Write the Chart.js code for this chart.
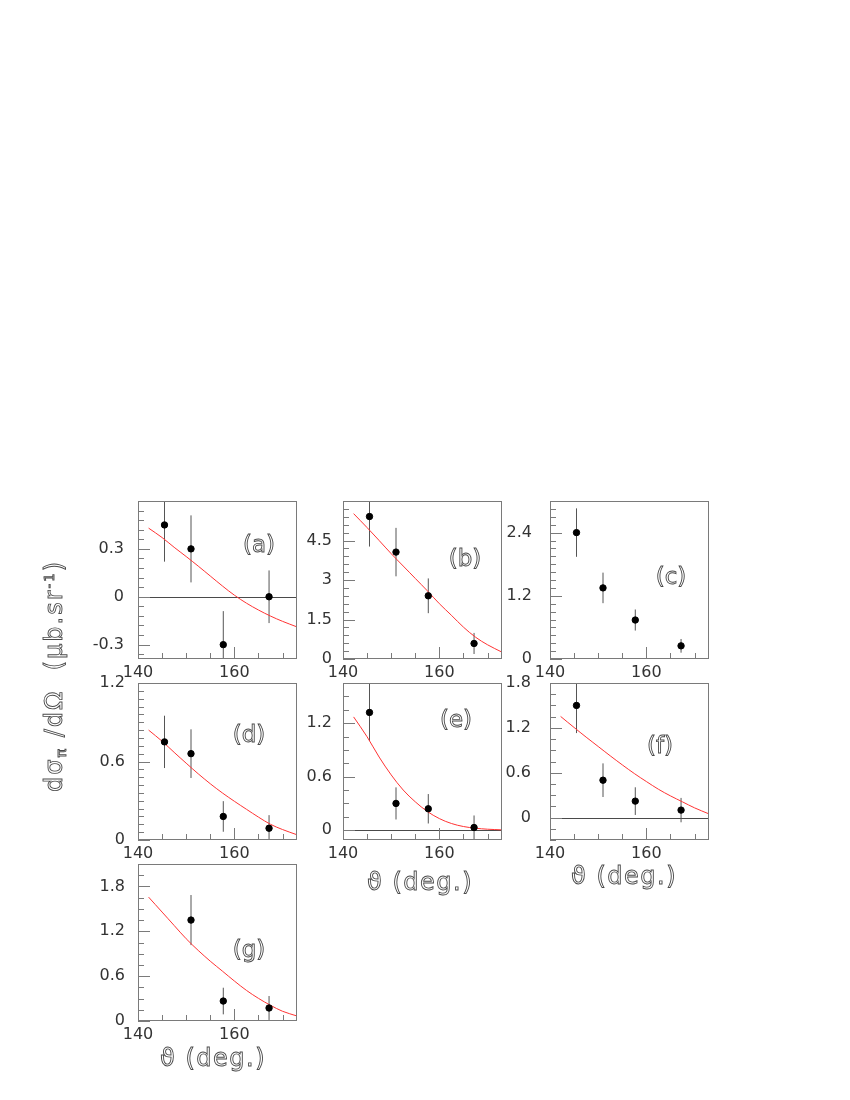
<!DOCTYPE html>
<html>
<head>
<meta charset="utf-8">
<script src="https://cdn.jsdelivr.net/npm/chart.js@4.4.1/dist/chart.umd.min.js"></script>
<style>
  body { margin: 0; background: #fff; }
  #page { position: relative; width: 850px; height: 1100px; background: #fff; overflow: hidden; }
  #page canvas { position: absolute; }
  .hollow { position: absolute; font-family: 'DejaVu Sans', sans-serif; color: #fff; -webkit-text-stroke: 0.9px #4a4a4a; white-space: nowrap; transform: translate(-50%, -50%); line-height: 1; filter: grayscale(1); }
  .tag { font-size: 23px; }
  .xtitle { font-size: 24px; letter-spacing: 1.5px; }
  .ytitle { font-size: 24px; letter-spacing: 2px; transform: translate(-50%, -50%) rotate(-90deg); }
  .ytitle sub { font-size: 60%; vertical-align: -0.25em; }
  .ytitle sup { font-size: 55%; vertical-align: 0.6em; }
</style>
</head>
<body>
<div id="page">
  <div class="hollow tag" style="left:259px;top:544px">(a)</div>
  <div class="hollow tag" style="left:465px;top:558px">(b)</div>
  <div class="hollow tag" style="left:671px;top:576px">(c)</div>
  <div class="hollow tag" style="left:249px;top:734px">(d)</div>
  <div class="hollow tag" style="left:456px;top:719px">(e)</div>
  <div class="hollow tag" style="left:660px;top:745px">(f)</div>
  <div class="hollow tag" style="left:249px;top:949px">(g)</div>
  <div class="hollow xtitle" style="left:420px;top:882px">ϑ (deg.)</div>
  <div class="hollow xtitle" style="left:624px;top:876px">ϑ (deg.)</div>
  <div class="hollow xtitle" style="left:213px;top:1058px">ϑ (deg.)</div>
  <div class="hollow ytitle" style="left:55px;top:676px">dσ<sub>π</sub> /dΩ&nbsp; (μb.sr<sup>-1</sup>)</div>
</div>
<script>
// angles of the measured points (deg)
const theta = [145.5, 151, 157.7, 167.2];
const thetaG = [151, 157.7, 167.2];
// angles where the red model curve is sampled
const fitTheta = [142.2, 145, 147.5, 150, 152.5, 155, 157.5, 160, 162.5, 165, 167.5, 170, 173];

const valA = [0.45, 0.30, -0.30, 0.0];
const errA = [0.23, 0.21, 0.21, 0.165];
const fitA = [0.43, 0.371, 0.31, 0.252, 0.192, 0.13, 0.068, 0.01, -0.04, -0.083, -0.121, -0.154, -0.189];

const valB = [5.41, 4.06, 2.40, 0.59];
const errB = [1.14, 0.92, 0.66, 0.40];
const fitB = [5.52, 4.99, 4.50, 4.00, 3.53, 3.06, 2.59, 2.10, 1.66, 1.21, 0.83, 0.54, 0.26];

const valC = [2.40, 1.35, 0.74, 0.25];
const errC = [0.46, 0.29, 0.20, 0.13];

const valD = [0.75, 0.66, 0.18, 0.09];
const errD = [0.20, 0.186, 0.117, 0.10];
const fitD = [0.84, 0.755, 0.67, 0.587, 0.506, 0.43, 0.36, 0.296, 0.235, 0.175, 0.12, 0.08, 0.04];

const valE = [1.32, 0.30, 0.24, 0.03];
const errE = [0.32, 0.18, 0.165, 0.135];
const fitE = [1.27, 1.047, 0.82, 0.62, 0.45, 0.318, 0.21, 0.13, 0.075, 0.041, 0.022, 0.011, 0.004];

const valF = [1.50, 0.50, 0.22, 0.10];
const errF = [0.37, 0.225, 0.185, 0.163];
const fitF = [1.353, 1.205, 1.076, 0.951, 0.826, 0.705, 0.589, 0.482, 0.379, 0.29, 0.21, 0.13, 0.049];

const valG = [1.35, 0.267, 0.174];
const errG = [0.335, 0.178, 0.16];
const fitG = [1.657, 1.457, 1.278, 1.10, 0.944, 0.80, 0.668, 0.535, 0.41, 0.303, 0.21, 0.13, 0.067];

// axis ticks
const xTicks = [140, 145, 150, 155, 160, 165, 170];
const xTickLabels = [140, 160];
const yLabelsA = [-0.3, 0, 0.3];
const yLabelsB = [0, 1.5, 3, 4.5];
const yLabelsC = [0, 1.2, 2.4];
const yLabelsD = [0, 0.6, 1.2];
const yLabelsE = [0, 0.6, 1.2];
const yLabelsF = [0, 0.6, 1.2, 1.8];
const yLabelsG = [0, 0.6, 1.2, 1.8];

const panels = [
  { left: 138, top: 501, h: 158, ymin: -0.39, ymax: 0.6,  step: 0.06, labels: yLabelsA, x: theta,  y: valA, err: errA, fit: fitA, gap: 14 },
  { left: 343, top: 501, h: 158, ymin: 0,     ymax: 6,    step: 0.3,  labels: yLabelsB, x: theta,  y: valB, err: errB, fit: fitB, gap: 11 },
  { left: 550, top: 501, h: 158, ymin: 0,     ymax: 3,    step: 0.15, labels: yLabelsC, x: theta,  y: valC, err: errC, fit: null, gap: 18 },
  { left: 138, top: 683, h: 157, ymin: 0,     ymax: 1.2,  step: 0.06, labels: yLabelsD, x: theta,  y: valD, err: errD, fit: fitD, gap: 13 },
  { left: 343, top: 683, h: 157, ymin: -0.11, ymax: 1.65, step: 0.15, labels: yLabelsE, x: theta,  y: valE, err: errE, fit: fitE, gap: 11 },
  { left: 550, top: 683, h: 157, ymin: -0.3,  ymax: 1.8,  step: 0.15, labels: yLabelsF, x: theta,  y: valF, err: errF, fit: fitF, gap: 19 },
  { left: 138, top: 864, h: 157, ymin: 0,     ymax: 2.1,  step: 0.15, labels: yLabelsG, x: thetaG, y: valG, err: errG, fit: fitG, gap: 13 }
];

const framePlugin = {
  id: 'frame',
  beforeDatasetsDraw(chart) {
    const { ctx, chartArea: a, scales: { y } } = chart;
    if (y.min < 0) {
      const py = Math.round(y.getPixelForValue(0)) + 0.5;
      ctx.save();
      ctx.strokeStyle = '#4a4a4a';
      ctx.lineWidth = 1;
      ctx.beginPath();
      ctx.moveTo(a.left, py);
      ctx.lineTo(a.right, py);
      ctx.stroke();
      ctx.restore();
    }
  },
  afterDatasetsDraw(chart) {
    const { ctx, chartArea: a, scales: { x, y } } = chart;
    ctx.save();
    ctx.strokeStyle = '#7a7a7a';
    ctx.lineWidth = 1;
    ctx.beginPath();
    y.ticks.forEach(t => {
      const py = Math.round(y.getPixelForValue(t.value)) + 0.5;
      ctx.moveTo(a.left, py);
      ctx.lineTo(a.left + (t.label ? 12 : 6), py);
    });
    x.ticks.forEach(t => {
      const px = Math.round(x.getPixelForValue(t.value)) + 0.5;
      ctx.moveTo(px, a.bottom);
      ctx.lineTo(px, a.bottom - (t.label ? 12 : 6));
    });
    ctx.stroke();
    ctx.strokeRect(a.left + 0.5, a.top + 0.5, a.width - 1, a.height - 1);
    ctx.restore();
  }
};

function makeChart(p) {
  // top padding must exceed half a label plus the label gap, or Chart.js pushes the plot down
  const W = 159, padL = 62, padT = 34, padR = 12, padB = 32;
  const cv = document.createElement('canvas');
  cv.width = padL + W + padR;
  cv.height = padT + p.h + padB;
  cv.style.left = (p.left - padL) + 'px';
  cv.style.top = (p.top - padT) + 'px';
  document.getElementById('page').appendChild(cv);

  const yTicks = [];
  for (let k = Math.ceil(p.ymin / p.step - 1e-6); k * p.step <= p.ymax + 1e-6; k++) {
    yTicks.push(Math.round(k * p.step * 1000) / 1000);
  }

  const datasets = [{
    data: p.x.map((x, i) => ({ x: x, y: p.y[i] })),
    backgroundColor: '#000',
    borderColor: '#000',
    pointRadius: 3.2,
    pointHoverRadius: 3.2
  }];
  if (p.fit) {
    datasets.push({
      data: fitTheta.map((x, i) => ({ x: x, y: p.fit[i] })),
      showLine: true,
      borderColor: '#ff3333',
      borderWidth: 1,
      pointRadius: 0,
      tension: 0.35
    });
  }
  p.x.forEach((x, i) => {
    datasets.push({
      data: [{ x: x, y: p.y[i] - p.err[i] }, { x: x, y: p.y[i] + p.err[i] }],
      showLine: true,
      borderColor: '#555',
      borderWidth: 1,
      pointRadius: 0
    });
  });

  const tickFont = { family: 'DejaVu Sans', size: 16 };
  new Chart(cv, {
    type: 'scatter',
    data: { datasets: datasets },
    options: {
      responsive: false,
      animation: false,
      devicePixelRatio: 1,
      events: [],
      layout: { padding: { left: 0, top: padT, right: padR, bottom: 0 } },
      plugins: { legend: { display: false }, tooltip: { enabled: false } },
      scales: {
        x: {
          type: 'linear', min: 140, max: 173,
          grid: { display: false, drawTicks: false },
          border: { display: false },
          afterBuildTicks: s => { s.ticks = xTicks.map(v => ({ value: v })); },
          afterFit: s => { s.height = padB; },
          ticks: {
            autoSkip: false, maxRotation: 0, padding: 4, color: '#333', font: tickFont,
            callback: v => xTickLabels.includes(v) ? String(v) : ''
          }
        },
        y: {
          type: 'linear', min: p.ymin, max: p.ymax,
          grid: { display: false, drawTicks: false },
          border: { display: false },
          afterBuildTicks: s => { s.ticks = yTicks.map(v => ({ value: v })); },
          afterFit: s => { s.width = padL; },
          ticks: {
            autoSkip: false, padding: p.gap, crossAlign: 'near', color: '#333', font: tickFont,
            callback: v => p.labels.some(m => Math.abs(m - v) < 1e-6) ? String(Math.round(v * 100) / 100) : ''
          }
        }
      }
    },
    plugins: [framePlugin]
  });
}

panels.forEach(makeChart);
</script>
</body>
</html>
